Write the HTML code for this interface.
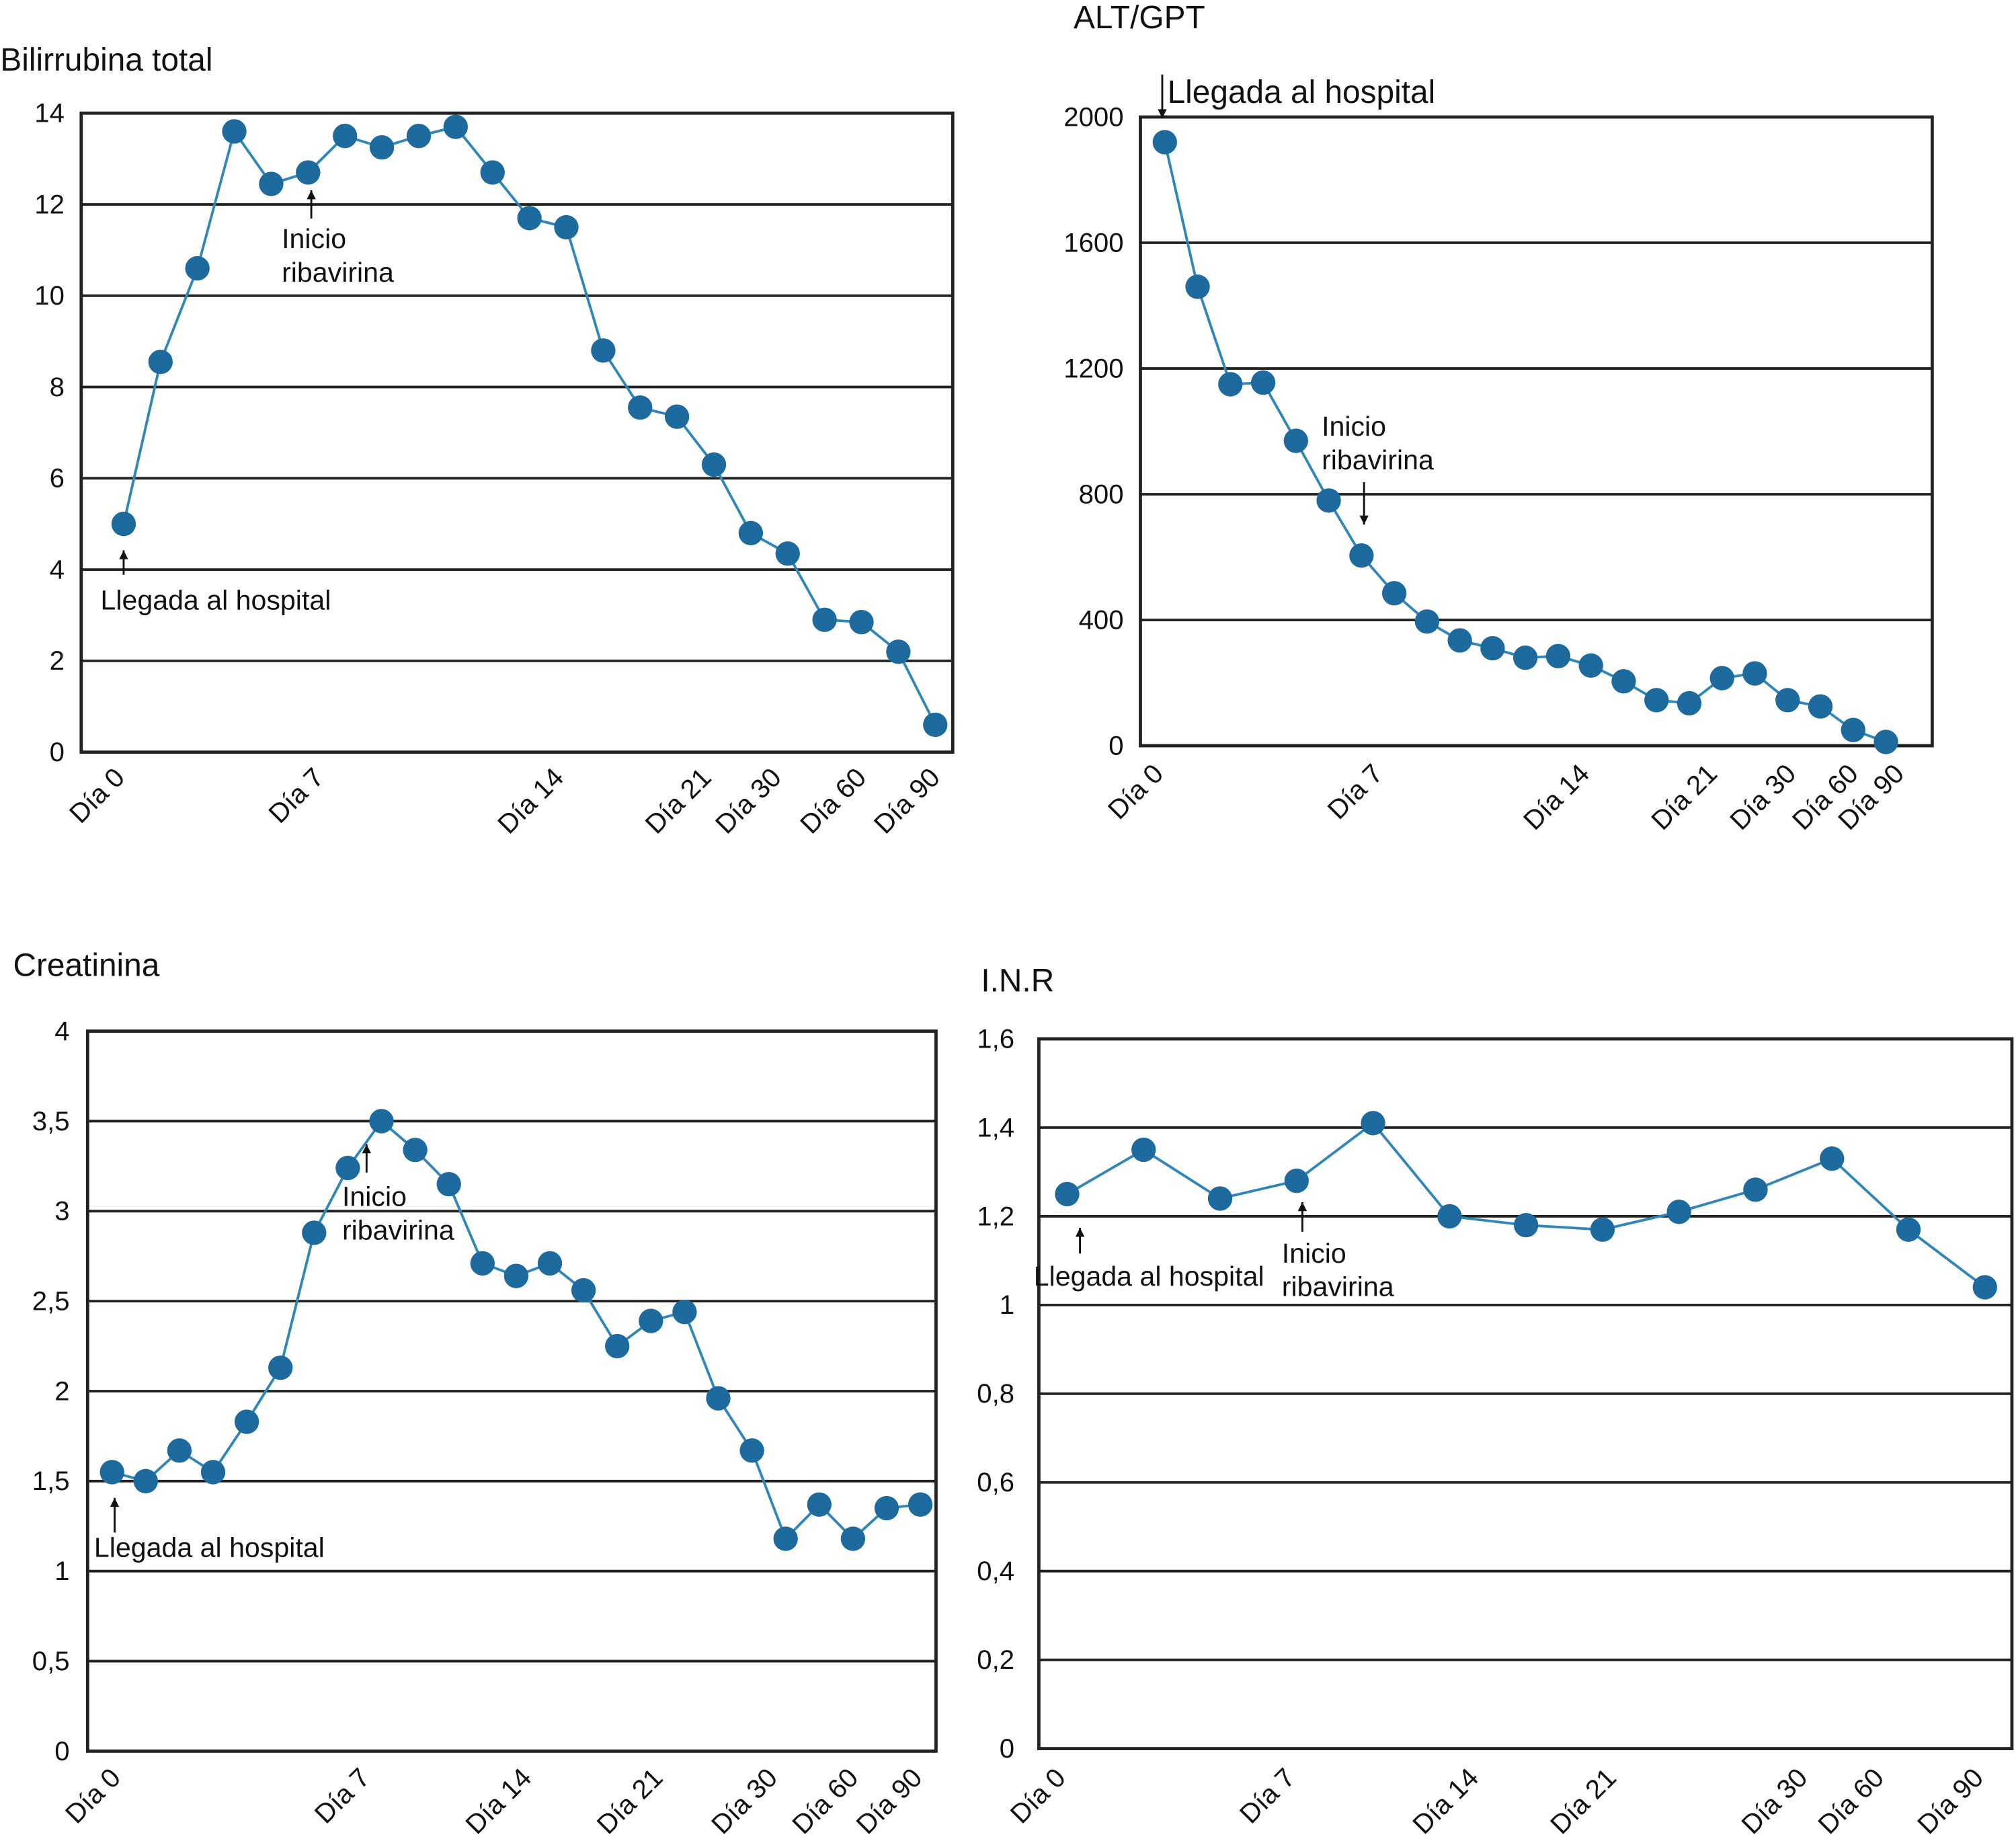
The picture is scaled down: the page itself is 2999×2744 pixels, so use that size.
<!DOCTYPE html>
<html><head><meta charset="utf-8"><style>
html,body{margin:0;padding:0;background:#fff}
svg{display:block}
text{font-family:"Liberation Sans",sans-serif;fill:#111}
</style></head><body>
<svg id="root" width="2999" height="2744" viewBox="0 0 1568 1435" xmlns="http://www.w3.org/2000/svg"></svg>
<script>
// Chart 1: Bilirrubina total
const biliValues = [5.0,8.55,10.6,13.6,12.45,12.7,13.5,13.25,13.5,13.7,12.7,11.7,11.5,8.8,7.55,7.35,6.3,4.8,4.35,2.9,2.85,2.2,0.6];
const biliTicks = [0,2,4,6,8,10,12,14];
const biliTickLabels = ["0","2","4","6","8","10","12","14"];
const biliXLabels = ["Día 0","Día 7","Día 14","Día 21","Día 30","Día 60","Día 90"];
const biliXLabelIdx = [0,5.4,11.9,15.9,17.8,20.1,22.1];
// Chart 2: ALT/GPT
const altValues = [1920,1460,1150,1155,970,780,605,485,395,335,310,280,285,255,205,145,135,215,230,145,125,50,12];
const altTicks = [0,400,800,1200,1600,2000];
const altTickLabels = ["0","400","800","1200","1600","2000"];
const altXLabels = ["Día 0","Día 7","Día 14","Día 21","Día 30","Día 60","Día 90"];
const altXLabelIdx = [0,6.7,13,16.9,19.3,21.2,22.6];
// Chart 3: Creatinina
const creaValues = [1.55,1.5,1.67,1.55,1.83,2.13,2.88,3.24,3.5,3.34,3.15,2.71,2.64,2.71,2.56,2.25,2.39,2.44,1.96,1.67,1.18,1.37,1.18,1.35,1.37];
const creaTicks = [0,0.5,1,1.5,2,2.5,3,3.5,4];
const creaTickLabels = ["0","0,5","1","1,5","2","2,5","3","3,5","4"];
const creaXLabels = ["Día 0","Día 7","Día 14","Día 21","Día 30","Día 60","Día 90"];
const creaXLabelIdx = [0.3,7.7,12.5,16.4,19.8,22.2,24.1];
// Chart 4: I.N.R
const inrValues = [1.25,1.35,1.24,1.28,1.41,1.2,1.18,1.17,1.21,1.26,1.33,1.17,1.04];
const inrTicks = [0,0.2,0.4,0.6,0.8,1,1.2,1.4,1.6];
const inrTickLabels = ["0","0,2","0,4","0,6","0,8","1","1,2","1,4","1,6"];
const inrXLabels = ["Día 0","Día 7","Día 14","Día 21","Día 30","Día 60","Día 90"];
const inrXLabelIdx = [0,3,5.4,7.2,9.7,10.7,12];

const NS="http://www.w3.org/2000/svg";
const root=document.getElementById('root');
function mk(tag,attrs,parent){const e=document.createElementNS(NS,tag);for(const k in attrs)e.setAttribute(k,attrs[k]);(parent||root).appendChild(e);return e;}

function chart(cfg){
  const g=mk('g',{});
  
  
  const ys=v=>cfg.y0+(cfg.y1-cfg.y0)*(v-cfg.vmin)/(cfg.vmax-cfg.vmin);
  const xs=i=>cfg.px0+i*cfg.dx;
  const t=mk('text',{x:cfg.tx,y:cfg.ty,'font-size':25},g);t.textContent=cfg.title;
  
  
  cfg.ticks.forEach((v,k)=>{
    const y=ys(v);
    const ln=mk('line',{x1:cfg.bx0,x2:cfg.bx1,y1:y,y2:y,stroke:'#222','stroke-width':2},g);
    
    
    const lb=mk('text',{x:cfg.lx,y:y+7,'font-size':21,'text-anchor':'end'},g);
    lb.textContent=cfg.tickLabels[k];
    
    
  });
  const box=mk('rect',{x:cfg.bx0,y:cfg.y1,width:cfg.bx1-cfg.bx0,height:cfg.y0-cfg.y1,fill:'none',stroke:'#222','stroke-width':2.5},g);
  
  
  cfg.xLabels.forEach((s,k)=>{
    const x=xs(cfg.xIdx[k])+cfg.xoff, y=cfg.xly;
    const lb=mk('text',{x:x,y:y,'font-size':21,'text-anchor':'end',transform:`rotate(-45 ${x} ${y})`},g);
    lb.textContent=s;
    
    
  });
  const pts=cfg.values.map((v,i)=>xs(i)+','+ys(v)).join(' ');
  const pl=mk('polyline',{points:pts,fill:'none',stroke:'#2f86b8','stroke-width':2},g);
  
  
  cfg.values.forEach((v,i)=>{
    const c=mk('circle',{cx:xs(i),cy:ys(v),r:9.5,fill:'#1d6a9e'},g);
    
    
  });
  cfg.notes.forEach(n=>{
    const a=mk('g',{},g);
    
    
    mk('line',{x1:n.ax,x2:n.ax,y1:n.ay1,y2:n.ay2,stroke:'#111','stroke-width':1.5},a);
    const d=n.ay2<n.ay1?-1:1;
    mk('path',{d:`M${n.ax-3.5},${n.ay2-d*7} L${n.ax},${n.ay2} L${n.ax+3.5},${n.ay2-d*7}Z`,fill:'#111'},a);
    n.lines.forEach((s,k)=>{const tx=mk('text',{x:n.tx,y:n.ty+k*26,'font-size':n.fs||21.5},a);tx.textContent=s;});
  });
}

chart({name:'bilirrubina-chart',title:'Bilirrubina total',tx:0,ty:55,values:biliValues,ticks:biliTicks,tickLabels:biliTickLabels,
  vmin:0,vmax:14,y0:585,y1:88,bx0:63,bx1:741,px0:96,dx:28.7,lx:50,xLabels:biliXLabels,xIdx:biliXLabelIdx,xoff:2,xly:606,
  notes:[{name:'arrival-annotation',ax:96,ay1:447,ay2:428,tx:78,ty:474,lines:['Llegada al hospital']},
         {name:'ribavirin-annotation',ax:242,ay1:170,ay2:148,tx:219,ty:193,lines:['Inicio','ribavirina']}]});
chart({name:'alt-gpt-chart',title:'ALT/GPT',tx:835,ty:22,values:altValues,ticks:altTicks,tickLabels:altTickLabels,
  vmin:0,vmax:2000,y0:580,y1:91,bx0:887,bx1:1503,px0:906,dx:25.5,lx:874,xLabels:altXLabels,xIdx:altXLabelIdx,xoff:0,xly:603,
  notes:[{name:'arrival-annotation',ax:904,ay1:58,ay2:92,tx:908,ty:80,lines:['Llegada al hospital'],fs:25},
         {name:'ribavirin-annotation',ax:1061,ay1:375,ay2:408,tx:1028,ty:339,lines:['Inicio','ribavirina']}]});
chart({name:'creatinina-chart',title:'Creatinina',tx:10,ty:759,values:creaValues,ticks:creaTicks,tickLabels:creaTickLabels,
  vmin:0,vmax:4,y0:1362,y1:802,bx0:68,bx1:728,px0:87,dx:26.2,lx:54,xLabels:creaXLabels,xIdx:creaXLabelIdx,xoff:0,xly:1384,
  notes:[{name:'arrival-annotation',ax:89,ay1:1192,ay2:1165,tx:73,ty:1211,lines:['Llegada al hospital']},
         {name:'ribavirin-annotation',ax:285,ay1:912,ay2:890,tx:266,ty:938,lines:['Inicio','ribavirina']}]});
chart({name:'inr-chart',title:'I.N.R',tx:763,ty:771,values:inrValues,ticks:inrTicks,tickLabels:inrTickLabels,
  vmin:0,vmax:1.6,y0:1360,y1:808,bx0:808,bx1:1565,px0:830,dx:59.5,lx:789,xLabels:inrXLabels,xIdx:inrXLabelIdx,xoff:0,xly:1384,
  notes:[{name:'arrival-annotation',ax:840,ay1:975,ay2:955,tx:804,ty:1000,lines:['Llegada al hospital']},
         {name:'ribavirin-annotation',ax:1013,ay1:958,ay2:935,tx:997,ty:982,lines:['Inicio','ribavirina']}]});
</script>
</body></html>
